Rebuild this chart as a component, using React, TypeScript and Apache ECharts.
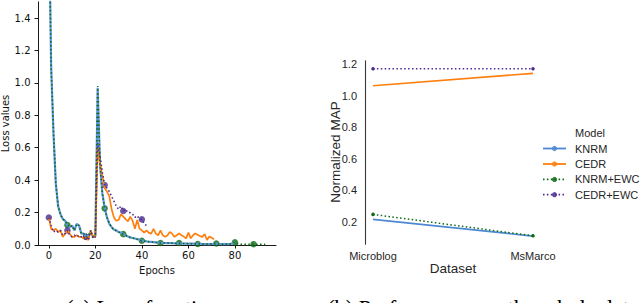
import React, { useEffect, useRef } from "react";
import * as echarts from "echarts";

// ---- Left panel: loss values per epoch (index = epoch) ----
const knrmLoss = [
  2.1, 1.1, 0.69, 0.38, 0.24, 0.19, 0.16, 0.15, 0.12, 0.11,
  0.12, 0.09, 0.13, 0.12, 0.07, 0.07, 0.05, 0.06, 0.08, 0.05,
  0.06, 0.97, 0.5, 0.32, 0.23, 0.17, 0.13, 0.11, 0.095, 0.09,
  0.08, 0.075, 0.068, 0.06, 0.052, 0.047, 0.043, 0.04, 0.036, 0.033,
  0.028, 0.025, 0.022, 0.02, 0.019, 0.018, 0.016, 0.015, 0.013, 0.013,
  0.012, 0.012, 0.011, 0.011, 0.01, 0.01, 0.012, 0.01, 0.009, 0.009,
  0.008, 0.008, 0.008, 0.007, 0.007, 0.007, 0.006, 0.006, 0.006, 0.006,
  0.006, 0.007, 0.009, 0.006, 0.005, 0.005, 0.005, 0.005, 0.006, 0.01,
  0.015,
];
const cedrLoss = [
  0.17, 0.1, 0.09, 0.1, 0.08, 0.09, 0.05, 0.07, 0.09, 0.07,
  0.05, 0.05, 0.06, 0.05, 0.05, 0.04, 0.05, 0.03, 0.09, 0.05,
  0.05, 0.6, 0.5, 0.43, 0.35, 0.33, 0.3, 0.22, 0.17, 0.15,
  0.155, 0.19, 0.175, 0.16, 0.145, 0.175, 0.15, 0.1, 0.155, 0.1,
  0.09, 0.076, 0.09, 0.075, 0.07, 0.1, 0.07, 0.06, 0.09, 0.06,
  0.05, 0.06, 0.08, 0.07, 0.05, 0.06, 0.072, 0.06, 0.052, 0.041,
  0.076, 0.041, 0.06, 0.072, 0.062, 0.055, 0.05, 0.068, 0.031, 0.052,
  0.045, 0.035,
];
const knrmEwcLoss = [
  2.1, 1.1, 0.7, 0.38, 0.24, 0.19, 0.16, 0.15, 0.123, 0.11,
  0.12, 0.09, 0.13, 0.12, 0.07, 0.07, 0.05, 0.06, 0.08, 0.05,
  0.06, 0.98, 0.5, 0.32, 0.226, 0.17, 0.134, 0.11, 0.093, 0.088,
  0.08, 0.074, 0.067, 0.06, 0.052, 0.047, 0.043, 0.04, 0.035, 0.031,
  0.026, 0.024, 0.022, 0.02, 0.019, 0.017, 0.016, 0.015, 0.012, 0.013,
  0.012, 0.012, 0.011, 0.011, 0.01, 0.01, 0.012, 0.01, 0.009, 0.009,
  0.008, 0.008, 0.008, 0.007, 0.006, 0.007, 0.006, 0.006, 0.006, 0.006,
  0.006, 0.007, 0.009, 0.006, 0.005, 0.005, 0.005, 0.005, 0.006, 0.01,
  0.016, 0.008, 0.005, 0.005, 0.004, 0.004, 0.004, 0.004, 0.005, 0.004,
  0.004, 0.004, 0.004, 0.004,
];
const cedrEwcLoss = [
  0.17, 0.12, 0.08, 0.09, 0.08, 0.09, 0.06, 0.07, 0.09, 0.06,
  0.05, 0.06, 0.05, 0.06, 0.05, 0.04, 0.051, 0.03, 0.09, 0.04,
  0.05, 0.63, 0.55, 0.45, 0.37, 0.35, 0.33, 0.3, 0.27, 0.24,
  0.22, 0.24, 0.21, 0.22, 0.2, 0.2, 0.19, 0.17, 0.18, 0.16,
  0.158, 0.13, 0.12,
];
const lossXTicks = [0, 20, 40, 60, 80];
const lossYTicks = [0, 0.2, 0.4, 0.6, 0.8, 1.0, 1.2, 1.4];
const markEvery = 8;

// ---- Right panel: normalized MAP per dataset ----
const datasets = ["Microblog", "MsMarco"];
const knrmMap = [0.215, 0.109];
const cedrMap = [1.064, 1.143];
const knrmEwcMap = [0.247, 0.111];
const cedrEwcMap = [1.172, 1.172];
const mapYTicks = [0.2, 0.4, 0.6, 0.8, 1.0, 1.2];
const modelNames = ["KNRM", "CEDR", "KNRM+EWC", "CEDR+EWC"];

const BLUE = "#4d88d3";
const BLUE_L = "#5f96da";
const ORANGE = "#ff7f0e";
const GREEN = "#0b6a14";
const PURPLE = "#4b2b8e";
const DOT = [1.5, 2.4];

const modelColors = [BLUE, ORANGE, GREEN, PURPLE];
const modelDashed = [false, false, true, true];

const pairs = (arr: number[]) => arr.map((v, i) => [i, v]);
const marks = (arr: number[]) =>
  arr.map((v, i) => [i, v]).filter((p) => (p[0] as number) % markEvery === 0);

export default function App() {
  const ref = useRef<HTMLDivElement>(null);
  useEffect(() => {
    if (!ref.current) return;
    const chart = echarts.init(ref.current, undefined, { renderer: "svg" });
    const mplFont = "DejaVu Sans";
    const sbFont = "Liberation Sans";
    const legendY = [148.5, 164, 179.4, 194.7];

    const legendGraphics: any[] = [];
    modelNames.forEach((name, i) => {
      legendGraphics.push({
        type: "line",
        shape: { x1: 543, y1: legendY[i], x2: 566, y2: legendY[i] },
        style: {
          stroke: modelColors[i],
          lineWidth: 1.8,
          lineDash: modelDashed[i] ? DOT : null,
        },
      });
      legendGraphics.push({
        type: "circle",
        shape: { cx: 554.5, cy: legendY[i], r: 2.6 },
        style: { fill: modelColors[i], opacity: 0.85 },
      });
      legendGraphics.push({
        type: "text",
        x: 575,
        y: legendY[i],
        style: {
          text: name,
          fontFamily: sbFont,
          fontSize: 11,
          fill: "#262626",
          verticalAlign: "middle",
          align: "left",
        },
      });
    });

    const option: any = {
      animation: false,
      backgroundColor: "#ffffff",
      grid: [
        { left: 38, top: 1.85, width: 238, height: 243.15 },
        { left: 365, top: 60.7, width: 176, height: 183.6 },
      ],
      xAxis: [
        {
          type: "value",
          gridIndex: 0,
          min: -4.65,
          max: 97.65,
          axisLine: { onZero: false, lineStyle: { color: "#000", width: 0.9 } },
          axisTick: {
            show: true,
            length: 3.5,
            customValues: lossXTicks,
            lineStyle: { color: "#000", width: 0.9 },
          },
          axisLabel: {
            customValues: lossXTicks,
            fontFamily: mplFont,
            fontSize: 10,
            color: "#111",
            margin: 5,
          },
          splitLine: { show: false },
        },
        {
          type: "value",
          gridIndex: 1,
          min: -0.05,
          max: 1.05,
          axisLine: { show: false, onZero: false },
          axisTick: { show: false },
          axisLabel: {
            customValues: [0, 1],
            formatter: (v: number) => datasets[Math.round(v)],
            fontFamily: sbFont,
            fontSize: 11,
            color: "#262626",
            margin: 6,
          },
          splitLine: { show: false },
        },
      ],
      yAxis: [
        {
          type: "value",
          gridIndex: 0,
          min: 0,
          max: 1.5,
          axisLine: { show: true, onZero: false, lineStyle: { color: "#000", width: 0.9 } },
          axisTick: {
            show: true,
            length: 3.5,
            customValues: lossYTicks,
            lineStyle: { color: "#000", width: 0.9 },
          },
          axisLabel: {
            customValues: lossYTicks,
            formatter: (v: number) => v.toFixed(1),
            fontFamily: mplFont,
            fontSize: 10,
            color: "#111",
            margin: 7.5,
          },
          splitLine: { show: false },
        },
        {
          type: "value",
          gridIndex: 1,
          min: 0.057,
          max: 1.223,
          axisLine: { show: true, onZero: false, lineStyle: { color: "#3a3a3a", width: 1.1 } },
          axisTick: { show: false },
          axisLabel: {
            customValues: mapYTicks,
            formatter: (v: number) => v.toFixed(1),
            fontFamily: sbFont,
            fontSize: 11,
            color: "#262626",
            margin: 8,
          },
          splitLine: { show: false },
        },
      ],
      series: [
        {
          name: "KNRM",
          type: "line",
          xAxisIndex: 0,
          yAxisIndex: 0,
          data: pairs(knrmLoss),
          symbol: "none",
          clip: true,
          lineStyle: { color: BLUE_L, width: 2.2 },
        },
        {
          name: "CEDR",
          type: "line",
          xAxisIndex: 0,
          yAxisIndex: 0,
          data: pairs(cedrLoss),
          symbol: "none",
          clip: true,
          lineStyle: { color: ORANGE, width: 1.7 },
        },
        {
          name: "KNRM+EWC",
          type: "line",
          xAxisIndex: 0,
          yAxisIndex: 0,
          data: pairs(knrmEwcLoss),
          symbol: "none",
          clip: true,
          lineStyle: { color: GREEN, width: 1.6, type: DOT },
        },
        {
          name: "KNRM+EWC",
          type: "scatter",
          xAxisIndex: 0,
          yAxisIndex: 0,
          data: marks(knrmEwcLoss),
          symbol: "circle",
          symbolSize: 6.5,
          clip: true,
          itemStyle: { color: GREEN },
        },
        {
          name: "CEDR+EWC",
          type: "line",
          xAxisIndex: 0,
          yAxisIndex: 0,
          data: pairs(cedrEwcLoss),
          symbol: "none",
          clip: true,
          lineStyle: { color: PURPLE, width: 1.6, type: DOT },
        },
        {
          name: "CEDR+EWC",
          type: "scatter",
          xAxisIndex: 0,
          yAxisIndex: 0,
          data: marks(cedrEwcLoss),
          symbol: "circle",
          symbolSize: 6.5,
          clip: true,
          itemStyle: { color: PURPLE },
        },
        // right panel
        {
          name: "KNRM",
          type: "line",
          xAxisIndex: 1,
          yAxisIndex: 1,
          data: pairs(knrmMap),
          symbol: "none",
          lineStyle: { color: BLUE, width: 1.7 },
        },
        {
          name: "CEDR",
          type: "line",
          xAxisIndex: 1,
          yAxisIndex: 1,
          data: pairs(cedrMap),
          symbol: "none",
          lineStyle: { color: ORANGE, width: 1.7 },
        },
        {
          name: "KNRM+EWC",
          type: "line",
          xAxisIndex: 1,
          yAxisIndex: 1,
          data: pairs(knrmEwcMap),
          symbol: "circle",
          symbolSize: 3.5,
          showSymbol: true,
          itemStyle: { color: GREEN },
          lineStyle: { color: GREEN, width: 1.5, type: DOT },
        },
        {
          name: "CEDR+EWC",
          type: "line",
          xAxisIndex: 1,
          yAxisIndex: 1,
          data: pairs(cedrEwcMap),
          symbol: "circle",
          symbolSize: 3.5,
          showSymbol: true,
          itemStyle: { color: PURPLE },
          lineStyle: { color: PURPLE, width: 1.5, type: DOT },
        },
      ],
      graphic: [
        {
          type: "text",
          x: 5,
          y: 123.5,
          rotation: Math.PI / 2,
          style: {
            text: "Loss values",
            fontFamily: mplFont,
            fontSize: 10,
            fill: "#111",
            align: "center",
            verticalAlign: "middle",
          },
        },
        {
          type: "text",
          x: 157,
          y: 270.5,
          style: {
            text: "Epochs",
            fontFamily: mplFont,
            fontSize: 10,
            fill: "#111",
            align: "center",
            verticalAlign: "middle",
          },
        },
        {
          type: "text",
          x: 335.2,
          y: 152,
          rotation: Math.PI / 2,
          style: {
            text: "Normalized MAP",
            fontFamily: sbFont,
            fontSize: 13.5,
            fill: "#262626",
            align: "center",
            verticalAlign: "middle",
          },
        },
        {
          type: "text",
          x: 453,
          y: 268.4,
          style: {
            text: "Dataset",
            fontFamily: sbFont,
            fontSize: 13.5,
            fill: "#262626",
            align: "center",
            verticalAlign: "middle",
          },
        },
        {
          type: "text",
          x: 575,
          y: 132.6,
          style: {
            text: "Model",
            fontFamily: sbFont,
            fontSize: 11,
            fill: "#262626",
            align: "left",
            verticalAlign: "middle",
          },
        },
        ...legendGraphics,
        {
          type: "text",
          x: 66,
          y: 308.5,
          style: {
            text: "(a) Loss function",
            fontFamily: "Liberation Serif",
            fontSize: 22.5,
            fill: "#000",
            align: "left",
            verticalAlign: "middle",
          },
        },
        {
          type: "text",
          x: 327,
          y: 308.5,
          style: {
            text: "(b) Performance on the whole datasets",
            fontFamily: "Liberation Serif",
            fontSize: 22.5,
            fill: "#000",
            align: "left",
            verticalAlign: "middle",
          },
        },
      ],
    };
    chart.setOption(option);
    return () => chart.dispose();
  }, []);

  return (
    <div
      ref={ref}
      style={{ position: "fixed", left: 0, top: 0, width: 640, height: 303, background: "#fff" }}
    />
  );
}
